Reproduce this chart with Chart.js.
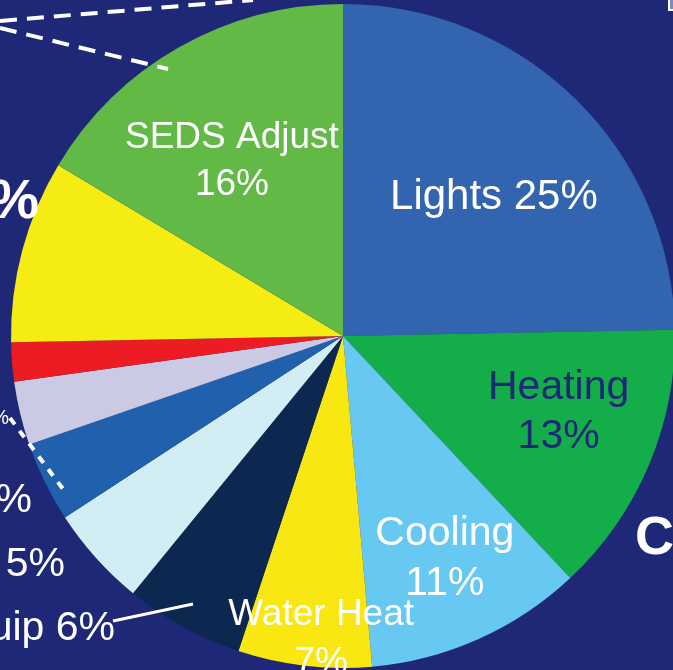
<!DOCTYPE html>
<html>
<head>
<meta charset="utf-8">
<script src="https://cdn.jsdelivr.net/npm/chart.js@4.4.1/dist/chart.umd.min.js"></script>
<style>
  html, body { margin: 0; padding: 0; background: #1F2877; overflow: hidden; }
  #wrap { position: absolute; left: 0; top: 0; width: 686px; height: 680px; }
</style>
</head>
<body>
<div id="wrap"><canvas id="pie" width="686" height="680"></canvas></div>
<script>
// slices clockwise from 12 o'clock
const categories = ["Lights", "Heating", "Cooling", "Water Heat", "Equip", "Cooking", "Refrig", "Electronics", "Computers", "Other", "SEDS Adjust"];
const shares = [24.7, 13.3, 10.6, 6.5, 5.8, 4.9, 3.9, 3.1, 1.9, 8.9, 16.4];
const labelText = ["Lights 25%", "Heating\n13%", "Cooling\n11%", "Water Heat\n7%", "Equip 6%", "Cooking 5%", "Refrig 4%", "Electronics 3%", "Computers 2%", "Other 9%", "SEDS Adjust\n16%"];
const sliceColors = ["#3364AF", "#13AE4A", "#67C8F1", "#F8E711", "#0C2850", "#D2EEF4", "#2060AC", "#CACAE4", "#ED1C24", "#F5EC13", "#63B946"];

// inside labels: slice index, radius fraction, angle shift (deg), font size, colour
const insideLabels = [
  { i: 0, f: 0.624, d: 2.3, size: 42, color: "#FFFFFF", lh: 49 },
  { i: 1, f: 0.686, d: -4.1, size: 41, color: "#1F2877", lh: 49 },
  { i: 2, f: 0.728, d: -0.8, size: 41, color: "#FFFFFF", lh: 50 },
  { i: 3, f: 0.906, d: -2.5, size: 37, color: "#FFFFFF", lh: 48 },
  { i: 10, f: 0.631, d: -2.5, size: 37, color: "#FFFFFF", lh: 47 }
];

// outside labels, offsets from pie centre (right edge, cap middle)
const outsideLabels = [
  { i: 4, dx: -228, dy: 289, size: 41, bold: false },
  { i: 5, dx: -278, dy: 225, size: 41, bold: false },
  { i: 6, dx: -311, dy: 161, size: 41, bold: false },
  { i: 7, dx: -334, dy: 81, size: 20, bold: false },
  { i: 9, dx: -304, dy: -138, size: 56, bold: true }
];

const FONT = '"Liberation Sans", Arial, Helvetica, sans-serif';

const labelPlugin = {
  id: "sliceLabels",
  afterDatasetsDraw(chart) {
    const ctx = chart.ctx;
    const arcs = chart.getDatasetMeta(0).data;
    const cx = arcs[0].x, cy = arcs[0].y, R = arcs[0].outerRadius;
    ctx.save();

    // leader lines
    ctx.strokeStyle = "#FFFFFF";
    ctx.lineCap = "butt";
    ctx.lineWidth = 3;
    ctx.beginPath();
    ctx.moveTo(cx - 230, cy + 285);
    ctx.lineTo(cx - 150, cy + 268);
    ctx.stroke();

    ctx.lineWidth = 4;
    ctx.setLineDash([8, 8]);
    ctx.beginPath();
    ctx.moveTo(cx - 333, cy + 82);
    ctx.lineTo(cx - 280, cy + 153);
    ctx.stroke();
    ctx.setLineDash([17, 10]);
    ctx.beginPath();
    ctx.moveTo(cx - 343, cy - 308);
    ctx.lineTo(cx - 175, cy - 267);
    ctx.stroke();
    ctx.beginPath();
    ctx.moveTo(cx - 343, cy - 315);
    ctx.lineTo(cx - 90, cy - 336);
    ctx.stroke();
    ctx.setLineDash([]);

    // inside labels
    insideLabels.forEach(l => {
      const a = arcs[l.i];
      const ang = (a.startAngle + a.endAngle) / 2 + l.d * Math.PI / 180;
      const x = cx + Math.cos(ang) * R * l.f;
      const y = cy + Math.sin(ang) * R * l.f;
      const lines = labelText[l.i].split("\n");
      ctx.font = l.size + "px " + FONT;
      ctx.fillStyle = l.color;
      ctx.textAlign = "center";
      ctx.textBaseline = "alphabetic";
      const y0 = y - (lines.length - 1) * l.lh / 2;
      lines.forEach((t, k) => ctx.fillText(t, x, y0 + k * l.lh + l.size * 0.358));
    });

    // outside labels (clipped by the window)
    outsideLabels.forEach(l => {
      ctx.font = (l.bold ? "bold " : "") + l.size + "px " + FONT;
      ctx.fillStyle = "#FFFFFF";
      ctx.textAlign = "right";
      ctx.textBaseline = "alphabetic";
      ctx.fillText(labelText[l.i], cx + l.dx, cy + l.dy + l.size * 0.358);
    });

    // neighbouring chart text at the right edge
    ctx.font = "bold 54px " + FONT;
    ctx.textAlign = "left";
    ctx.fillText("C", cx + 292, cy + 199 + 54 * 0.358);
    ctx.fillStyle = "#7F86CC";
    ctx.strokeStyle = "#FFFFFF";
    ctx.lineWidth = 2;
    ctx.fillRect(cx + 326, cy - 340, 12, 14);
    ctx.strokeRect(cx + 326, cy - 340, 12, 14);
    ctx.restore();
  }
};

new Chart(document.getElementById("pie"), {
  type: "pie",
  data: {
    labels: categories,
    datasets: [{
      data: shares,
      backgroundColor: sliceColors,
      borderWidth: 0
    }]
  },
  options: {
    responsive: false,
    animation: false,
    devicePixelRatio: 1,
    layout: { padding: { top: 4, bottom: 12, left: 0, right: 0 } },
    plugins: {
      legend: { display: false },
      tooltip: { enabled: false }
    }
  },
  plugins: [labelPlugin]
});
</script>
</body>
</html>
